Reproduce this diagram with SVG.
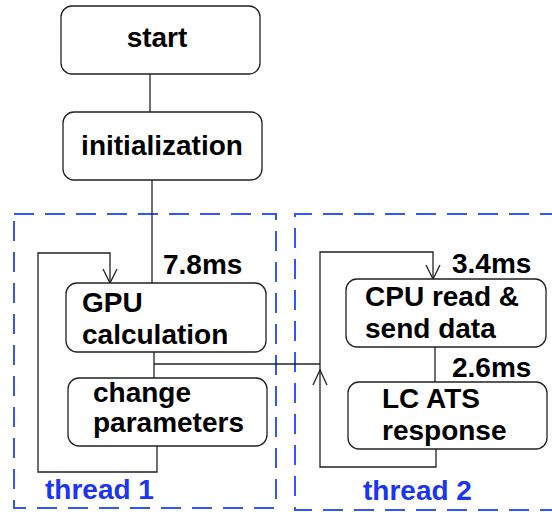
<svg xmlns="http://www.w3.org/2000/svg" width="552" height="512" viewBox="0 0 552 512">
<style>
.box{fill:#fff;stroke:#222;stroke-width:1.3}
.t{font-family:"Liberation Sans",Arial,sans-serif;font-weight:bold;font-size:28px;fill:#000}
.b{font-family:"Liberation Sans",Arial,sans-serif;font-weight:bold;font-size:28px;fill:#1a35f5}
.th{fill:none;stroke:#3355ff;stroke-width:2;stroke-dasharray:20 11}
.c{fill:none;stroke:#222;stroke-width:1.3}
</style>
<rect width="552" height="512" fill="#fff"/>
<g id="thread1"><rect class="th" x="14" y="214" width="262" height="294"/><text class="b" x="45" y="499">thread 1</text></g>
<g id="thread2"><path class="th" d="M560 214 H295 V510 H560"/><text class="b" x="363" y="500">thread 2</text></g>
<g id="connectors">
<path class="c" d="M150 74 V112"/>
<path class="c" d="M152 180 V283"/>
<path class="c" d="M154 352 V378"/>
<path class="c" d="M154 364 H320"/>
<path class="c" d="M157 446 V472 H38 V253 H110 V283"/>
<path class="c" d="M103 269 L110 283 L117 269"/>
<path class="c" d="M435 347 V382"/>
<path class="c" d="M436 449 V467 H320 V252 H433 V279"/>
<path class="c" d="M426 265 L433 279 L440 265"/>
<path class="c" d="M313 385 L320 370 L327 385"/>
</g>
<g id="start"><rect class="box" x="61" y="6" width="199" height="68" rx="11"/><text class="t" x="157" y="47" text-anchor="middle">start</text></g>
<g id="init"><rect class="box" x="63" y="112" width="199" height="68" rx="11"/><text class="t" x="162" y="155" text-anchor="middle">initialization</text></g>
<g id="gpu"><rect class="box" x="66" y="283" width="200" height="69" rx="11"/><text class="t" x="82" y="312">GPU</text><text class="t" x="82" y="344">calculation</text></g>
<g id="change"><rect class="box" x="68" y="378" width="199" height="68" rx="11"/><text class="t" x="93" y="402">change</text><text class="t" x="93" y="432">parameters</text></g>
<g id="cpu"><rect class="box" x="346" y="279" width="200" height="68" rx="11"/><text class="t" x="365" y="306">CPU read &amp;</text><text class="t" x="365" y="338">send data</text></g>
<g id="lc"><rect class="box" x="348" y="382" width="199" height="67" rx="11"/><text class="t" x="382" y="408">LC ATS</text><text class="t" x="382" y="440">response</text></g>
<g id="labels">
<text class="t" x="163" y="274">7.8ms</text>
<text class="t" x="452" y="273">3.4ms</text>
<text class="t" x="452" y="377">2.6ms</text>
</g>
</svg>
